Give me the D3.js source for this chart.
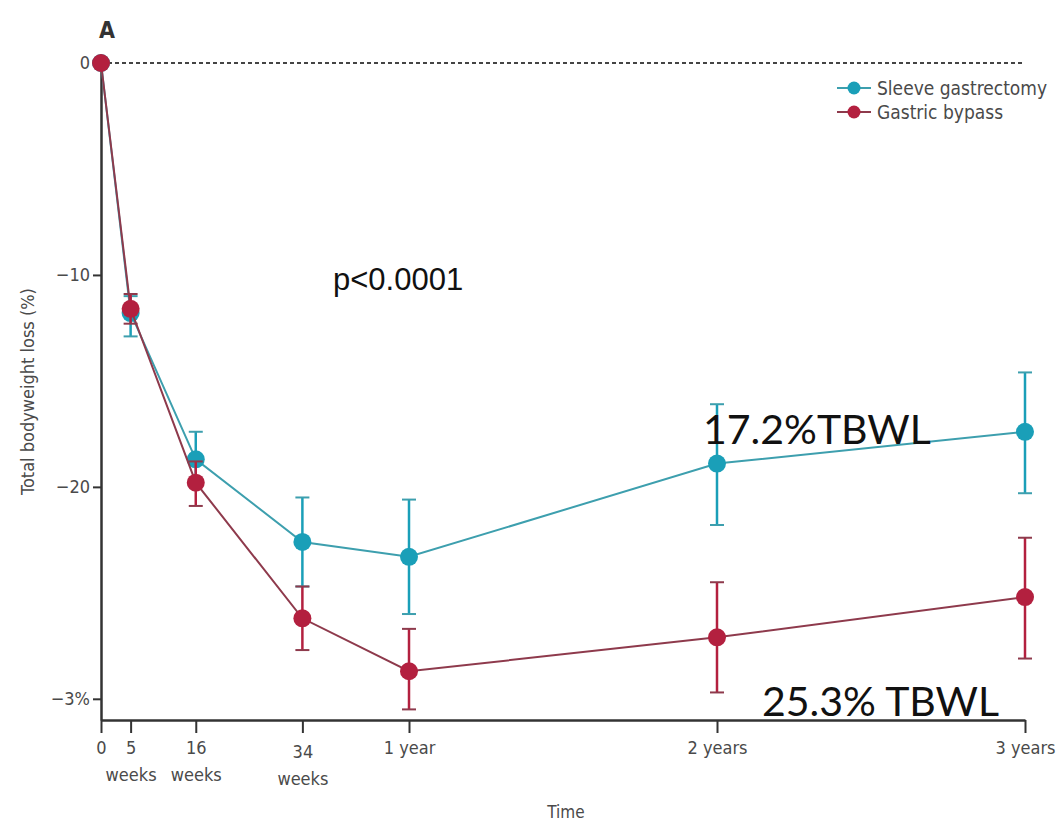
<!DOCTYPE html>
<html>
<head>
<meta charset="utf-8">
<script src="https://cdn.jsdelivr.net/npm/d3@7"></script>
<style>
  body { margin: 0; background: #fff; }
  svg { display: block; }
  .lbl { font-family: "Liberation Sans Narrow", "DejaVu Sans Condensed", sans-serif; fill: #4a4a4a; }
</style>
</head>
<body>
<svg id="chart"></svg>
<script>
// time points in weeks
const weeks = [0, 5, 16, 34, 52, 104, 156];
const sleeveMean = [0, -11.8, -18.7, -22.6, -23.3, -18.9, -17.4];
const sleeveLow = [0, -12.9, -20.0, -24.7, -26.0, -21.8, -20.3];
const sleeveHigh = [0, -11.0, -17.4, -20.5, -20.6, -16.1, -14.6];
const bypassMean = [0, -11.6, -19.8, -26.2, -28.7, -27.1, -25.2];
const bypassLow = [0, -12.3, -20.9, -27.7, -30.5, -29.7, -28.1];
const bypassHigh = [0, -10.9, -18.8, -24.7, -26.7, -24.5, -22.4];
const yTicks = [0, -10, -20, -30];
const yTickLabels = ['0', '\u221210', '\u221220', '\u22123%'];
const xTickLabels = [['0'], ['5', 'weeks'], ['16', 'weeks'], ['34', 'weeks'], ['1 year'], ['2 years'], ['3 years']];
const seriesNames = ['Sleeve gastrectomy', 'Gastric bypass'];
const seriesColors = ['#1a9fb8', '#b3203f'];
const lineColors = ['#3d9fae', '#8e3a4c'];

const width = 1060;
const height = 822;

const svg = d3.select('#chart')
    .attr('width', width)
    .attr('height', height);

const x = d3.scaleLinear().domain([0, 156]).range([101, 1025]);
const y = d3.scaleLinear().domain([0, -31]).range([63, 720]);

// panel letter
svg.append('text')
    .attr('x', 99).attr('y', 38)
    .attr('class', 'lbl')
    .style('font-size', '23px')
    .style('font-weight', 600)
    .style('fill', '#333')
    .text('A');

// zero reference line
svg.append('line')
    .attr('x1', x(0)).attr('x2', x(156))
    .attr('y1', y(0)).attr('y2', y(0))
    .attr('stroke', '#444')
    .attr('stroke-width', 2)
    .attr('stroke-dasharray', '4,3');

// axes
const yAxis = svg.append('g')
    .attr('transform', `translate(${x(0)},0)`)
    .call(d3.axisLeft(y).tickValues(yTicks)
        .tickFormat((d, i) => yTickLabels[i])
        .tickSize(8).tickSizeOuter(0).tickPadding(3));
yAxis.select('.domain').attr('stroke', '#333').attr('stroke-width', 2.5);
yAxis.selectAll('.tick line').attr('stroke', '#333').attr('stroke-width', 2);
yAxis.selectAll('.tick text')
    .attr('class', 'lbl')
    .style('font-size', '18px');

const xAxis = svg.append('g')
    .attr('transform', `translate(0,${y(-31)})`)
    .call(d3.axisBottom(x).tickValues(weeks)
        .tickFormat('')
        .tickSize(13).tickSizeOuter(0));
xAxis.select('.domain').attr('stroke', '#333').attr('stroke-width', 2.5);
xAxis.selectAll('.tick line').attr('stroke', '#333').attr('stroke-width', 2);
xAxis.selectAll('.tick').each(function (d, i) {
    const t = d3.select(this).append('text')
        .attr('class', 'lbl')
        .attr('text-anchor', 'middle')
        .style('font-size', '18px')
        .attr('y', d === 34 ? 38 : 34);
    xTickLabels[i].forEach((s, j) => {
        t.append('tspan')
            .attr('x', 0)
            .attr('dy', j === 0 ? 0 : 27)
            .text(s);
    });
});

// axis titles
svg.append('text')
    .attr('class', 'lbl')
    .attr('text-anchor', 'middle')
    .attr('transform', `translate(34,${y(-15.5)}) rotate(-90)`)
    .style('font-size', '18px')
    .text('Total bodyweight loss (%)');

svg.append('text')
    .attr('class', 'lbl')
    .attr('text-anchor', 'middle')
    .attr('x', 566).attr('y', 818)
    .style('font-size', '17px')
    .text('Time');

// series
const series = [
    { mean: sleeveMean, low: sleeveLow, high: sleeveHigh },
    { mean: bypassMean, low: bypassLow, high: bypassHigh },
];

const line = d3.line()
    .x((d) => x(d.w))
    .y((d) => y(d.v));

series.forEach((s, k) => {
    const pts = weeks.map((w, i) => ({ w, v: s.mean[i], lo: s.low[i], hi: s.high[i] }));
    const g = svg.append('g');
    g.append('path')
        .datum(pts)
        .attr('d', line)
        .attr('fill', 'none')
        .attr('stroke', lineColors[k])
        .attr('stroke-width', 2);

    const bars = g.selectAll('.err')
        .data(pts.filter((p) => p.w > 0))
        .join('g');
    bars.append('line')
        .attr('x1', (d) => x(d.w)).attr('x2', (d) => x(d.w))
        .attr('y1', (d) => y(d.lo)).attr('y2', (d) => y(d.hi))
        .attr('stroke', seriesColors[k])
        .attr('stroke-width', 2.5);
    [(d) => y(d.lo), (d) => y(d.hi)].forEach((fy) => {
        bars.append('line')
            .attr('x1', (d) => x(d.w) - 7).attr('x2', (d) => x(d.w) + 7)
            .attr('y1', fy).attr('y2', fy)
            .attr('stroke', lineColors[k])
            .attr('stroke-width', 2);
    });

    g.selectAll('circle')
        .data(pts)
        .join('circle')
        .attr('cx', (d) => x(d.w))
        .attr('cy', (d) => y(d.v))
        .attr('r', 9)
        .attr('fill', seriesColors[k]);
});

// legend
const legend = svg.append('g').attr('transform', 'translate(837,88)');
seriesNames.forEach((name, i) => {
    const row = legend.append('g').attr('transform', `translate(0,${i * 24})`);
    row.append('line')
        .attr('x1', 0).attr('x2', 34)
        .attr('stroke', lineColors[i])
        .attr('stroke-width', 2);
    row.append('circle')
        .attr('cx', 17).attr('r', 6.5)
        .attr('fill', seriesColors[i]);
    row.append('text')
        .attr('class', 'lbl')
        .attr('x', 40).attr('dy', '0.35em')
        .style('font-size', '19px')
        .text(name);
});

// annotations
svg.append('text')
    .attr('x', 333).attr('y', 290)
    .style('font-family', '"Liberation Sans", Arial, sans-serif')
    .style('font-size', '31px')
    .style('fill', '#111')
    .text('p<0.0001');

svg.append('text')
    .attr('x', 703).attr('y', 444)
    .style('font-family', 'Lato, "Open Sans", sans-serif')
    .style('font-size', '41px')
    .style('fill', '#111')
    .text('17.2%TBWL');

svg.append('text')
    .attr('x', 762).attr('y', 716)
    .style('font-family', 'Lato, "Open Sans", sans-serif')
    .style('font-size', '41px')
    .style('fill', '#111')
    .text('25.3% TBWL');
</script>
</body>
</html>
